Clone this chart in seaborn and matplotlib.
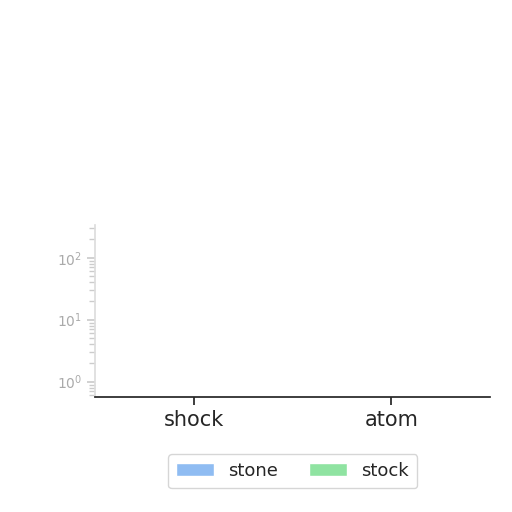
import numpy as np
import pandas as pd
import seaborn as sns
import matplotlib.pyplot as plt

sns.set_theme(style="ticks")

# data (bars barely rise above the axis floor)
categories = ["shock", "atom"]
stone = [0.6, 0.6]
stock = [0.6, 0.6]

data = pd.DataFrame({"category": categories, "stone": stone, "stock": stock})
data_melted = pd.melt(data, id_vars="category", value_vars=["stone", "stock"],
                      var_name="series", value_name="value")

fig = plt.figure(figsize=(5.12, 5.12), dpi=100)
ax = fig.add_axes([0.186, 0.225, 0.771, 0.336])

sns.barplot(data=data_melted, x="category", y="value", hue="series",
            palette=["#8fbcf2", "#8fe3a1"], saturation=1, ax=ax,
            log_scale=(False, True))

ax.set_ylim(0.57, 340)
ax.set_xlim(-0.5, 1.5)
ax.set_xlabel("")
ax.set_ylabel("")
ax.tick_params(axis="x", labelsize=15)
ax.tick_params(axis="y", which="both", labelsize=10, labelcolor="#aaaaaa", colors="#cccccc")
sns.despine(ax=ax)
ax.spines["left"].set_color("#dddddd")

ax.legend(loc="upper center", bbox_to_anchor=(0.5, -0.28), ncol=2,
          fontsize=13, frameon=True, handlelength=2.1, handletextpad=0.8,
          columnspacing=1.7, borderpad=0.45)

plt.savefig("out.png", dpi=100)
